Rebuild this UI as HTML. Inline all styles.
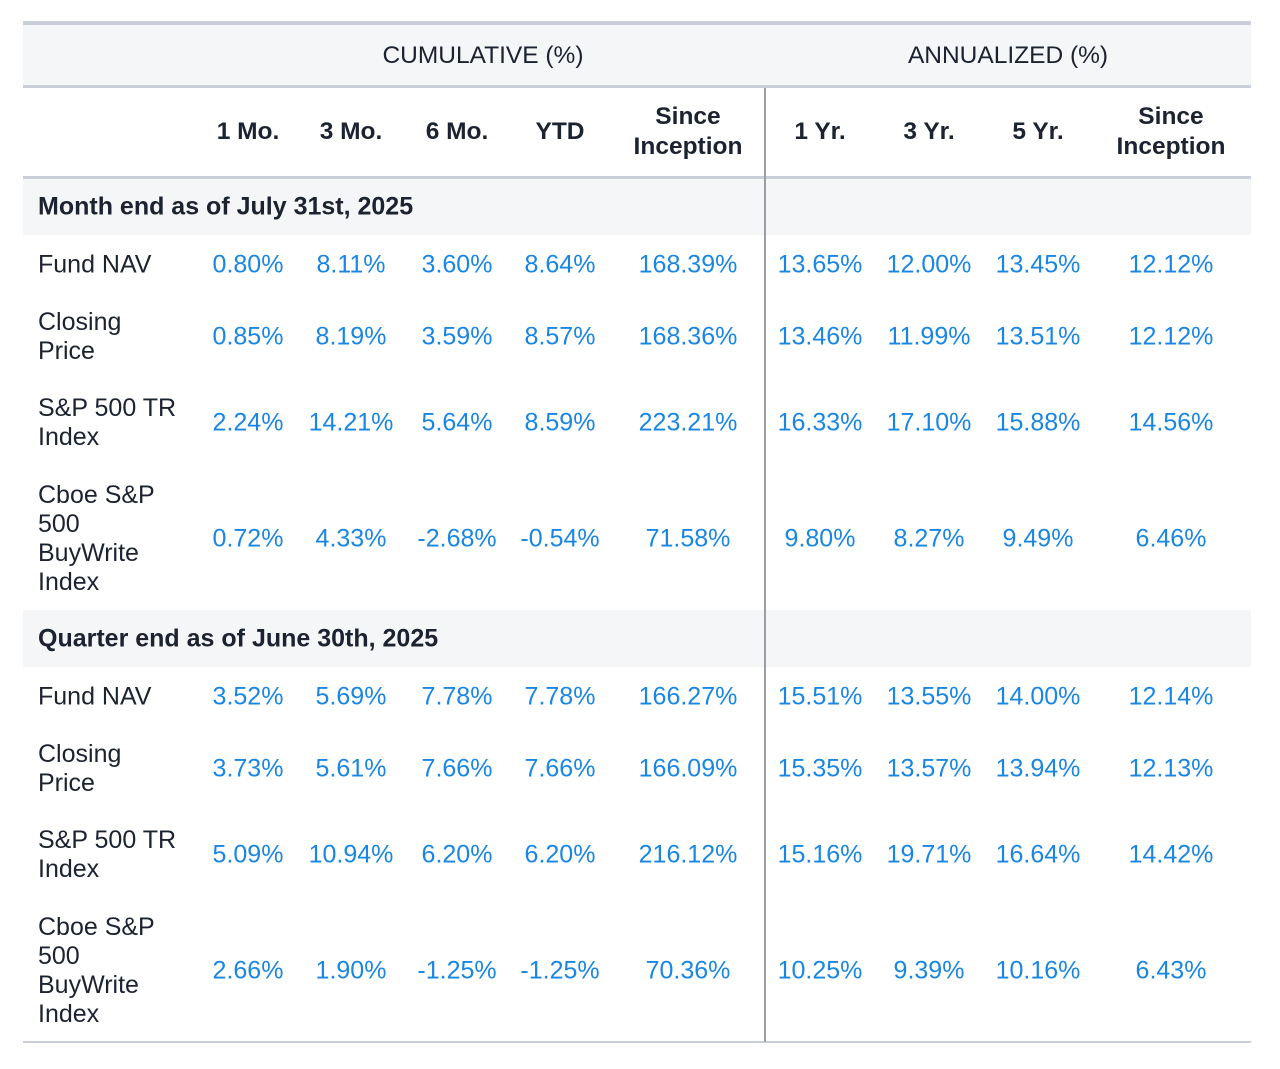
<!DOCTYPE html>
<html><head><meta charset="utf-8"><style>
body{margin:0;width:1280px;height:1069px;background:#fff;position:relative;overflow:hidden;font-family:"Liberation Sans",Arial,sans-serif;color:#1b2230}
.a{position:absolute}
.hb{background:#f5f6f8}
.ln{background:#c9ced9}
.t{position:absolute;white-space:nowrap;transform:translate(-50%,-50%);text-align:center}
.v{color:#1a86e4;font-size:25px}
.h{font-weight:bold;font-size:24.5px;line-height:30px}
.lab{position:absolute;left:38px;font-size:25px;line-height:29px;transform:translateY(-50%);white-space:nowrap}
.g{position:absolute;left:38px;font-weight:bold;font-size:25px;transform:translateY(-50%);white-space:nowrap}
</style></head><body>
<div class="a ln" style="left:23px;top:21px;width:1228px;height:4px"></div>
<div class="a hb" style="left:23px;top:25px;width:1228px;height:61px"></div>
<div class="a ln" style="left:23px;top:85px;width:1228px;height:3px"></div>
<div class="t" style="left:483px;top:56px;font-size:24.5px">CUMULATIVE (%)</div>
<div class="t" style="left:1008px;top:56px;font-size:24.5px">ANNUALIZED (%)</div>
<div class="a ln" style="left:23px;top:176px;width:1228px;height:3px"></div>
<div class="a hb" style="left:23px;top:179px;width:1228px;height:56px"></div>
<div class="g" style="top:207px">Month end as of July 31st, 2025</div>
<div class="a hb" style="left:23px;top:610px;width:1228px;height:57px"></div>
<div class="g" style="top:639px">Quarter end as of June 30th, 2025</div>
<div class="a ln" style="left:23px;top:1041px;width:1228px;height:2px"></div>
<div class="a" style="left:764px;top:88px;width:2px;height:954px;background:#9a9da4"></div>
<div id="root"></div>
<script>
const colX=[248,351,457,560,688,820,929,1038,1171];
const colHeads=["1 Mo.","3 Mo.","6 Mo.","YTD","Since<br>Inception","1 Yr.","3 Yr.","5 Yr.","Since<br>Inception"];
const rowLabels=["Fund NAV","Closing<br>Price","S&amp;P 500 TR<br>Index","Cboe S&amp;P<br>500<br>BuyWrite<br>Index"];
const rowY=[265,337,423,539];
const monthVals=[
["0.80%","8.11%","3.60%","8.64%","168.39%","13.65%","12.00%","13.45%","12.12%"],
["0.85%","8.19%","3.59%","8.57%","168.36%","13.46%","11.99%","13.51%","12.12%"],
["2.24%","14.21%","5.64%","8.59%","223.21%","16.33%","17.10%","15.88%","14.56%"],
["0.72%","4.33%","-2.68%","-0.54%","71.58%","9.80%","8.27%","9.49%","6.46%"]];
const quarterVals=[
["3.52%","5.69%","7.78%","7.78%","166.27%","15.51%","13.55%","14.00%","12.14%"],
["3.73%","5.61%","7.66%","7.66%","166.09%","15.35%","13.57%","13.94%","12.13%"],
["5.09%","10.94%","6.20%","6.20%","216.12%","15.16%","19.71%","16.64%","14.42%"],
["2.66%","1.90%","-1.25%","-1.25%","70.36%","10.25%","9.39%","10.16%","6.43%"]];
const root=document.getElementById('root');
colHeads.forEach((h,i)=>{
 const d=document.createElement('div');
 d.className='t h';d.style.left=colX[i]+'px';d.style.top='132px';d.innerHTML=h;
 
 
 root.appendChild(d);
});
[[monthVals,0],[quarterVals,432]].forEach(([vals,off])=>{
 vals.forEach((row,r)=>{
  const l=document.createElement('div');
  l.className='lab';l.style.top=(rowY[r]+off)+'px';l.innerHTML=rowLabels[r];
  
  
  root.appendChild(l);
  row.forEach((v,c)=>{
   const d=document.createElement('div');
   d.className='t v';d.style.left=colX[c]+'px';d.style.top=(rowY[r]+off)+'px';d.textContent=v;
   
   
   root.appendChild(d);
  });
 });
});
</script>
</body></html>
